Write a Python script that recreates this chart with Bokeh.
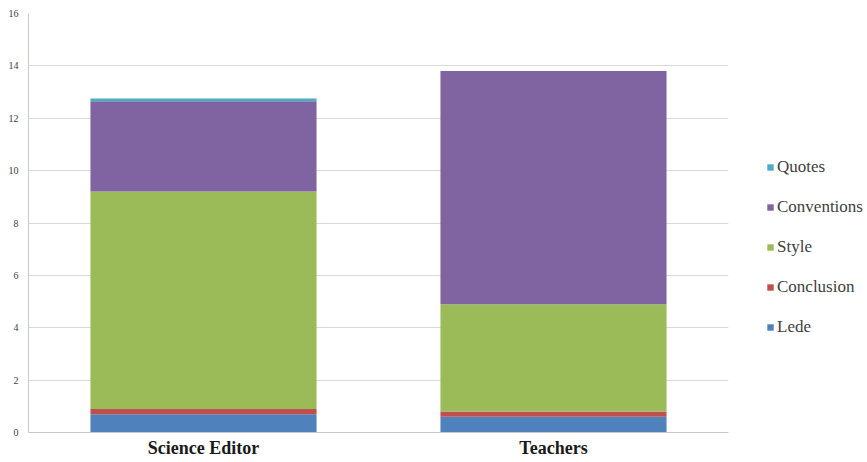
from bokeh.plotting import figure
from bokeh.layouts import row
from bokeh.models import ColumnDataSource, Range1d, Legend, LegendItem, FixedTicker
from bokeh.embed import file_html
from bokeh.resources import INLINE

categories = ["Science Editor", "Teachers"]
series = ["Lede", "Conclusion", "Style", "Conventions", "Quotes"]
lede = [0.7, 0.6]
conclusion = [0.2, 0.2]
style = [8.3, 4.1]
conventions = [3.45, 8.9]
quotes = [0.1, 0.0]
colors = ["#4F81BD", "#C0504D", "#9BBB59", "#8064A2", "#4BACC6"]
y_ticks = [0, 2, 4, 6, 8, 10, 12, 14, 16]

source = ColumnDataSource(dict(cat=categories, Lede=lede, Conclusion=conclusion,
                               Style=style, Conventions=conventions, Quotes=quotes))

p = figure(x_range=categories, y_range=Range1d(0, 16),
           frame_width=700, frame_height=419,
           output_backend="svg", toolbar_location=None,
           min_border_left=28, min_border_top=13, min_border_bottom=26, min_border_right=8)
p.outline_line_color = None
p.background_fill_color = "white"

renderers = p.vbar_stack(series, x="cat", width=0.646, color=colors, line_color=None, source=source)

p.xgrid.grid_line_color = None
p.ygrid.grid_line_color = "#d9d9d9"
p.ygrid.grid_line_width = 1

p.yaxis.ticker = FixedTicker(ticks=y_ticks)
p.yaxis.axis_line_color = "#c8c8c8"
p.yaxis.major_tick_line_color = None
p.yaxis.minor_tick_line_color = None
p.yaxis.major_tick_out = 0
p.yaxis.major_tick_in = 0
p.yaxis.major_label_standoff = 10
p.yaxis.major_label_text_font = "Liberation Serif"
p.yaxis.major_label_text_font_size = "10px"
p.yaxis.major_label_text_color = "#404040"

p.xaxis.axis_line_color = "#c8c8c8"
p.xaxis.major_tick_line_color = None
p.xaxis.minor_tick_line_color = None
p.xaxis.major_tick_out = 0
p.xaxis.major_tick_in = 0
p.xaxis.major_label_standoff = 5
p.xaxis.major_label_text_font = "Liberation Serif"
p.xaxis.major_label_text_font_size = "18px"
p.xaxis.major_label_text_font_style = "bold"
p.xaxis.major_label_text_color = "#1a1a1a"

# legend panel: same stacked data as hidden proxies, used only for the legend
lg = figure(width=131, height=458, x_range=categories, y_range=Range1d(0, 16),
            x_axis_type=None, y_axis_type=None, output_backend="svg", toolbar_location=None,
            min_border_left=0, min_border_right=0, min_border_top=0, min_border_bottom=0)
lg.outline_line_color = None
lg.grid.visible = False
proxies = lg.vbar_stack(series, x="cat", width=0.646, color=colors, line_color=None, source=source)
for r in proxies:
    r.visible = False

items = [LegendItem(label=s, renderers=[r]) for s, r in zip(series, proxies)][::-1]
legend = Legend(items=items, location=(30, 93), orientation="vertical",
                glyph_width=8, glyph_height=8, label_standoff=3, label_height=20,
                spacing=20, padding=0, margin=0,
                label_text_font="Liberation Serif", label_text_font_size="17px",
                label_text_color="#404040", border_line_color=None,
                background_fill_alpha=0, inactive_fill_alpha=0,
                click_policy="none")
lg.add_layout(legend)

layout = row(p, lg)
open("out.html", "w").write(file_html(layout, INLINE))
